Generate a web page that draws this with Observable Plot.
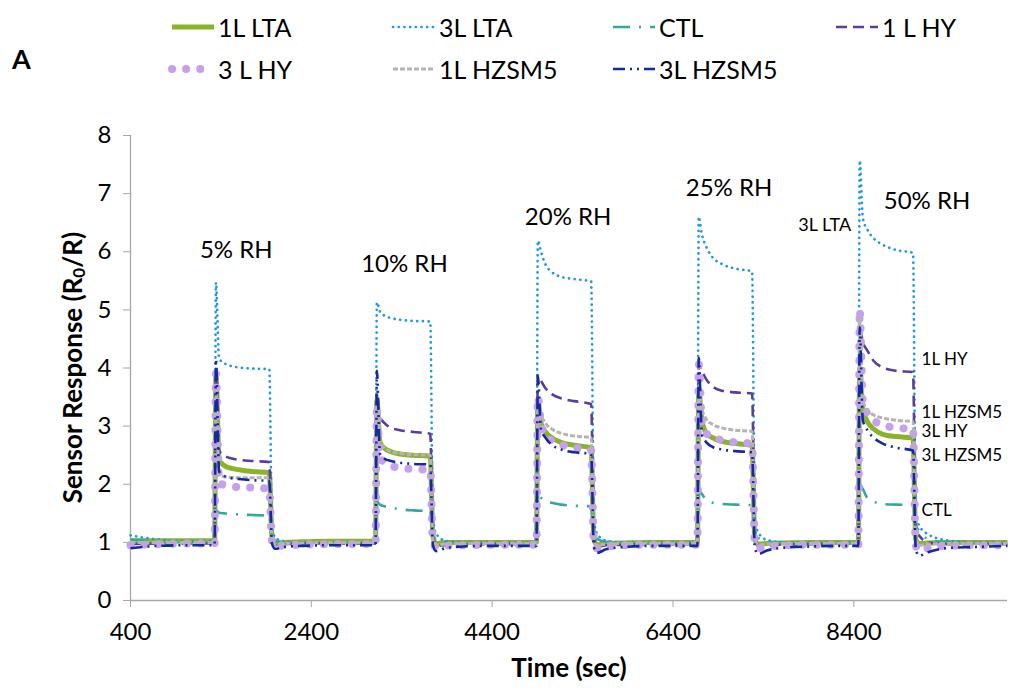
<!DOCTYPE html>
<html>
<head>
<meta charset="utf-8">
<script src="https://cdn.jsdelivr.net/npm/d3@7"></script>
<script src="https://cdn.jsdelivr.net/npm/@observablehq/plot@0.6"></script>
<style>
  html, body { margin: 0; padding: 0; background: #fff; }
  #wrap { width: 1026px; height: 688px; position: relative; font-family: Lato, "Open Sans", sans-serif; }
  #legend { width: 1026px; height: 95px; display: block; }
  #chart svg { display: block; }
</style>
</head>
<body>
<div id="wrap">
  <svg id="legend" width="1026" height="95"></svg>
  <div id="chart"></div>
</div>
<script>
// ---------------- data ----------------
const time = [400, 700, 1000,
  1330, 1345, 1380, 1430, 1500, 1600, 1750, 1935, 1965, 2000, 2100, 2300, 2600, 2900,
  3110, 3125, 3160, 3210, 3280, 3380, 3530, 3715, 3745, 3780, 3880, 4080, 4380, 4680,
  4890, 4905, 4940, 4990, 5060, 5160, 5310, 5495, 5525, 5560, 5660, 5860, 6160, 6460,
  6670, 6685, 6720, 6770, 6840, 6940, 7090, 7275, 7305, 7340, 7440, 7640, 7940, 8240,
  8450, 8465, 8500, 8550, 8620, 8720, 8870, 9055, 9085, 9120, 9220, 9420, 9720, 10100];

const lta1 = [1.03, 1.03, 1.03,
  1.03, 3.90, 2.42, 2.33, 2.28, 2.25, 2.22, 2.20, 1.10, 0.98, 1.00, 1.01, 1.02, 1.02,
  1.02, 3.44, 2.72, 2.62, 2.56, 2.52, 2.50, 2.48, 1.10, 0.98, 1.00, 1.00, 1.00, 1.00,
  1.00, 3.44, 3.05, 2.90, 2.80, 2.72, 2.67, 2.63, 1.05, 0.96, 0.98, 0.99, 1.00, 1.00,
  1.00, 3.61, 3.10, 2.88, 2.80, 2.74, 2.70, 2.67, 1.05, 0.97, 0.98, 0.99, 1.00, 1.00,
  1.00, 4.00, 3.30, 3.08, 2.95, 2.86, 2.82, 2.80, 1.05, 0.98, 0.99, 1.00, 1.00, 1.00];

const lta3 = [1.12, 1.05, 1.02,
  1.02, 5.47, 4.16, 4.09, 4.04, 4.01, 3.99, 3.98, 1.30, 1.08, 1.02, 1.00, 1.00, 1.00,
  1.00, 5.13, 4.97, 4.90, 4.86, 4.83, 4.81, 4.80, 1.45, 1.15, 1.03, 1.00, 1.00, 1.00,
  1.00, 6.19, 6.00, 5.78, 5.65, 5.57, 5.53, 5.49, 1.40, 1.15, 1.03, 1.00, 1.00, 1.00,
  1.00, 6.60, 6.30, 6.08, 5.90, 5.79, 5.71, 5.66, 1.40, 1.18, 1.04, 1.00, 1.00, 1.00,
  1.00, 7.57, 6.58, 6.38, 6.23, 6.12, 6.03, 5.98, 1.45, 1.30, 1.14, 1.04, 1.00, 1.00];

const ctl = [1.05, 1.02, 1.00,
  1.00, 1.55, 1.51, 1.50, 1.49, 1.48, 1.47, 1.46, 1.08, 1.03, 1.01, 1.00, 1.00, 0.99,
  0.98, 1.70, 1.65, 1.62, 1.60, 1.57, 1.55, 1.54, 1.12, 1.05, 1.00, 0.98, 0.98, 0.98,
  0.98, 1.85, 1.77, 1.72, 1.68, 1.65, 1.63, 1.62, 1.15, 1.06, 1.01, 0.99, 0.98, 0.98,
  0.98, 1.90, 1.83, 1.73, 1.68, 1.66, 1.65, 1.64, 1.20, 1.08, 1.02, 0.99, 0.98, 0.98,
  0.98, 2.00, 1.92, 1.76, 1.70, 1.66, 1.65, 1.64, 1.30, 1.20, 1.06, 1.00, 0.99, 0.99];

const hy1 = [0.97, 0.98, 0.98,
  0.98, 3.90, 2.58, 2.50, 2.45, 2.42, 2.40, 2.38, 1.10, 0.95, 0.97, 0.98, 0.98, 0.98,
  0.98, 3.30, 3.15, 3.05, 2.97, 2.93, 2.90, 2.87, 1.10, 0.94, 0.95, 0.96, 0.97, 0.97,
  0.97, 3.87, 3.78, 3.65, 3.55, 3.48, 3.43, 3.38, 1.10, 0.93, 0.95, 0.96, 0.97, 0.97,
  0.97, 4.07, 3.95, 3.80, 3.68, 3.61, 3.58, 3.56, 1.15, 0.94, 0.95, 0.96, 0.97, 0.97,
  0.97, 4.70, 4.45, 4.30, 4.12, 4.01, 3.95, 3.93, 1.20, 1.12, 1.00, 0.97, 0.97, 0.97];

const hy3 = [0.95, 0.97, 0.98,
  0.98, 3.90, 2.02, 1.99, 1.96, 1.95, 1.94, 1.92, 1.00, 0.93, 0.95, 0.96, 0.97, 0.97,
  0.97, 3.30, 2.45, 2.38, 2.32, 2.28, 2.26, 2.25, 1.00, 0.92, 0.94, 0.95, 0.96, 0.96,
  0.96, 3.50, 3.05, 2.85, 2.75, 2.68, 2.63, 2.58, 1.00, 0.90, 0.93, 0.95, 0.96, 0.96,
  0.96, 4.07, 3.05, 2.88, 2.80, 2.76, 2.72, 2.70, 1.00, 0.90, 0.93, 0.95, 0.96, 0.96,
  0.96, 5.01, 3.40, 3.22, 3.10, 3.02, 2.97, 2.95, 0.95, 0.86, 0.90, 0.94, 0.95, 0.95];

const hzsm1 = [1.00, 1.00, 1.00,
  1.00, 3.60, 2.16, 2.13, 2.12, 2.11, 2.11, 2.11, 1.05, 0.96, 0.98, 0.99, 1.00, 1.00,
  0.99, 3.59, 2.75, 2.63, 2.56, 2.53, 2.51, 2.50, 1.05, 0.95, 0.97, 0.98, 0.98, 0.98,
  0.98, 3.40, 3.20, 3.05, 2.95, 2.88, 2.83, 2.80, 1.05, 0.95, 0.97, 0.98, 0.98, 0.98,
  0.98, 3.70, 3.30, 3.12, 3.03, 2.97, 2.93, 2.91, 1.10, 0.96, 0.97, 0.98, 0.98, 0.98,
  0.98, 4.90, 3.45, 3.28, 3.19, 3.14, 3.10, 3.08, 1.05, 0.95, 0.97, 0.98, 0.98, 0.98];

const hzsm3 = [0.90, 0.94, 0.95,
  0.95, 4.15, 2.22, 2.15, 2.11, 2.09, 2.07, 2.06, 0.98, 0.89, 0.92, 0.94, 0.95, 0.95,
  0.95, 3.95, 2.52, 2.44, 2.40, 2.37, 2.35, 2.34, 0.95, 0.85, 0.90, 0.93, 0.94, 0.94,
  0.94, 3.87, 2.95, 2.80, 2.68, 2.60, 2.55, 2.52, 0.92, 0.82, 0.88, 0.92, 0.94, 0.94,
  0.94, 4.17, 2.85, 2.72, 2.64, 2.60, 2.57, 2.55, 0.92, 0.80, 0.86, 0.91, 0.93, 0.94,
  0.94, 4.70, 3.10, 2.93, 2.80, 2.70, 2.63, 2.58, 0.90, 0.77, 0.83, 0.90, 0.92, 0.94];

const seriesNames = ["1L LTA", "3L LTA", "CTL", "1 L HY", "3 L HY", "1L HZSM5", "3L HZSM5"];
const seriesValues = [lta1, lta3, ctl, hy1, hy3, hzsm1, hzsm3];

const xTicks = [400, 2400, 4400, 6400, 8400];
const yTicks = [0, 1, 2, 3, 4, 5, 6, 7, 8];

const rhLabels = ["5% RH", "10% RH", "20% RH", "25% RH", "50% RH"];
const rhTime = [1570, 3430, 5240, 7020, 9210];
const rhValue = [6.02, 5.79, 6.60, 7.09, 6.87];

const endLabels = ["1L HY", "1L HZSM5", "3L HY", "3L HZSM5", "CTL"];
const endTime = [9150, 9150, 9150, 9150, 9150];
const endValue = [4.15, 3.24, 2.90, 2.50, 1.54];

const peakLabel = ["3L LTA"];
const peakTime = [8370];
const peakValue = [6.46];

// ---------------- styles ----------------
const styles = {
  "1L LTA":   {stroke: "#8BB32A", width: 5,   dash: null,             cap: "butt"},
  "3L LTA":   {stroke: "#1E9BDC", width: 2.7, dash: "0.1 5.6",        cap: "round"},
  "CTL":      {stroke: "#35A89C", width: 2.6, dash: "17 9 2 9",       cap: "butt"},
  "1 L HY":   {stroke: "#5A3D9C", width: 2.6, dash: "11 6",           cap: "butt"},
  "3 L HY":   {stroke: "#C6A0EC", width: 8,   dash: "0.1 14",         cap: "round"},
  "1L HZSM5": {stroke: "#B4B4B4", width: 3,   dash: "5 2",            cap: "butt"},
  "3L HZSM5": {stroke: "#15299E", width: 2.6, dash: "12 5 2 5 2 5",   cap: "butt"}
};
const axisColor = "#A6A6A6";
const font = "Lato, 'Open Sans', sans-serif";

// ---------------- table ----------------
const rows = seriesNames.flatMap((name, k) =>
  time.map((t, i) => ({series: name, time: t, value: seriesValues[k][i]})));
const rhData = rhLabels.map((label, i) => ({label, t: rhTime[i], v: rhValue[i]}));
const endData = endLabels.map((label, i) => ({label, t: endTime[i], v: endValue[i]}));
const peakData = peakLabel.map((label, i) => ({label, t: peakTime[i], v: peakValue[i]}));

const lineMarks = seriesNames.map(name => {
  const st = styles[name];
  return Plot.line(rows.filter(d => d.series === name), {
    x: "time", y: "value",
    stroke: st.stroke, strokeWidth: st.width,
    strokeDasharray: st.dash || undefined,
    strokeLinecap: st.cap, strokeLinejoin: "round",
    curve: "monotone-x"
  });
});

const chart = Plot.plot({
  width: 1026, height: 593,
  marginTop: 40, marginBottom: 88, marginLeft: 130, marginRight: 19,
  x: {domain: [400, 10100]},
  y: {domain: [0, 8]},
  style: {fontFamily: font, fontSize: "24px", color: "#000", background: "#fff", overflow: "visible"},
  marks: [
    Plot.ruleY([0], {stroke: axisColor, strokeWidth: 1.3}),
    Plot.ruleX([400], {stroke: axisColor, strokeWidth: 1.3}),
    Plot.axisY({ticks: yTicks, tickSize: 7, tickPadding: 12, stroke: axisColor, fill: "#000", label: null, fontSize: 24, tickFormat: d => String(d)}),
    Plot.axisX({ticks: xTicks, tickSize: 7, tickPadding: 15, stroke: axisColor, fill: "#000", label: null, fontSize: 24, tickFormat: d => String(d)}),
    ...lineMarks,
    Plot.text(rhData, {x: "t", y: "v", text: "label", fontSize: 24, fill: "#000"}),
    Plot.text(endData, {x: "t", y: "v", text: "label", fontSize: 17, textAnchor: "start", fill: "#000"}),
    Plot.text(peakData, {x: "t", y: "v", text: "label", fontSize: 18, textAnchor: "end", fill: "#000"}),
    Plot.text(["Time (sec)"], {frameAnchor: "bottom", dy: 76, fontWeight: "bold", fontSize: 26, fill: "#000"})
  ]
});
document.getElementById("chart").appendChild(chart);

// y axis title with subscript
const svg = d3.select(chart);
const yTitle = svg.append("text")
  .attr("transform", `translate(72, ${(40 + 505) / 2}) rotate(-90)`)
  .attr("text-anchor", "middle")
  .attr("dominant-baseline", "central")
  .attr("font-family", font)
  .attr("font-weight", "bold")
  .attr("font-size", 26)
  .attr("fill", "#000");
yTitle.append("tspan").text("Sensor Response (R");
yTitle.append("tspan").attr("font-size", 17).attr("dy", 6).text("0");
yTitle.append("tspan").attr("dy", -6).text("/R)");

// ---------------- legend ----------------
const leg = d3.select("#legend");
leg.append("text").attr("x", 12).attr("y", 58).attr("dominant-baseline", "central")
  .attr("font-family", font).attr("font-weight", "bold").attr("font-size", 27).text("A");
const legCols = [172, 393, 613, 836];
const legRows = [27, 69];
seriesNames.forEach((name, i) => {
  const col = i < 4 ? i : i - 4;
  const row = i < 4 ? 0 : 1;
  const x0 = legCols[col], y0 = legRows[row];
  const st = styles[name];
  leg.append("line").attr("x1", x0).attr("x2", x0 + 42).attr("y1", y0).attr("y2", y0)
    .attr("stroke", st.stroke).attr("stroke-width", st.width)
    .attr("stroke-dasharray", st.dash).attr("stroke-linecap", st.cap);
  leg.append("text").attr("x", x0 + 46).attr("y", y0).attr("dominant-baseline", "central")
    .attr("font-family", font).attr("font-size", 25).attr("fill", "#000").text(name);
});
</script>
</body>
</html>
